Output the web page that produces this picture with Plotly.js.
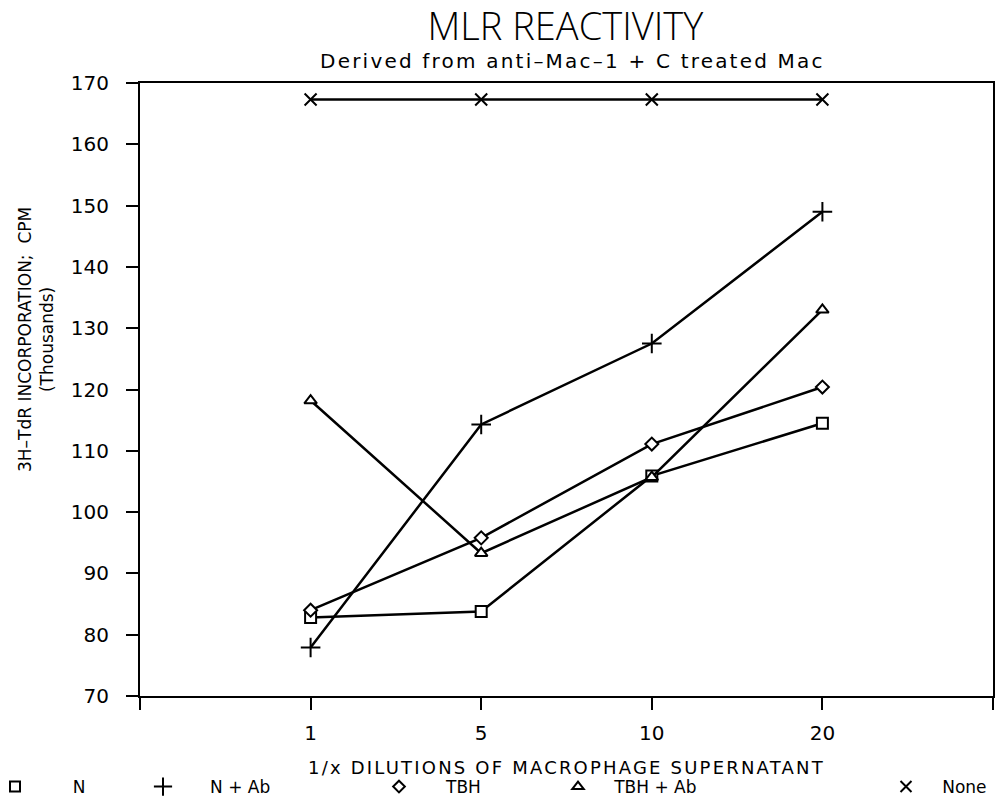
<!DOCTYPE html>
<html>
<head>
<meta charset="utf-8">
<script src="https://cdn.plot.ly/plotly-3.0.1.min.js"></script>
<style>
html,body{margin:0;padding:0;background:#fff;}
#chart{width:1001px;height:801px;}
.wide text{letter-spacing:2.2px;}
</style>
</head>
<body>
<div id="chart"></div>
<script>
const categories = ['1', '5', '10', '20'];
const seriesNames = ['N', 'N + Ab', 'TBH', 'TBH + Ab', 'None'];
const valuesN = [82.8, 83.8, 105.9, 114.5];
const valuesNAb = [77.9, 114.3, 127.5, 149.0];
const valuesTBH = [84.0, 95.8, 111.1, 120.4];
const valuesTBHAb = [118.2, 93.3, 105.7, 133.0];
const valuesNone = [167.3, 167.3, 167.3, 167.3];
const yTicks = [70, 80, 90, 100, 110, 120, 130, 140, 150, 160, 170];

const xIdx = categories.map((c, i) => i);
const FONT = 'DejaVu Sans, Arial, sans-serif';

const styles = [
  {symbol: 'square', size: 11},
  {symbol: 'cross-thin', size: 14},
  {symbol: 'diamond', size: 10},
  {symbol: 'triangle-up', size: 11},
  {symbol: 'x-thin', size: 12}
];
const allValues = [valuesN, valuesNAb, valuesTBH, valuesTBHAb, valuesNone];

const traces = [];
allValues.forEach((vals, k) => {
  traces.push({
    x: xIdx, y: vals, type: 'scatter', mode: 'lines+markers',
    line: {color: 'black', width: 2.5},
    marker: {symbol: styles[k].symbol, size: styles[k].size, color: 'white',
             line: {color: 'black', width: 2}},
    showlegend: false, hoverinfo: 'skip'
  });
});

// legend-only entries (markers only, as in the reference)
const legendPx = [15, 163, 399, 578, 906];
const legendPad = [7, 5, 5, 3, 3];
const plotL = 140, plotW = 853, plotT = 83, plotH = 613;
const layoutLegends = {};
seriesNames.forEach((name, k) => {
  const key = k === 0 ? 'legend' : 'legend' + (k + 1);
  traces.push({
    x: [null], y: [null], type: 'scatter', mode: 'markers',
    name: '\u00a0'.repeat(legendPad[k]) + name,
    legend: key,
    marker: {symbol: styles[k].symbol, size: styles[k].size - 1, color: 'white',
             line: {color: 'black', width: 2}},
    showlegend: true
  });
  layoutLegends[key] = {
    x: (legendPx[k] - 20 - plotL) / plotW, xanchor: 'left',
    y: (plotT + plotH - 787) / plotH, yanchor: 'middle',
    orientation: 'h', bgcolor: 'rgba(0,0,0,0)', borderwidth: 0,
    font: {family: FONT, size: 17, color: 'black'}
  };
});

const layout = Object.assign({
  width: 1001, height: 801,
  margin: {l: 140, r: 8, t: 83, b: 105, autoexpand: false},
  paper_bgcolor: 'white', plot_bgcolor: 'white',
  title: {text: 'MLR REACTIVITY', x: 0.5648, xanchor: 'center', y: 1 - 27 / 801, yanchor: 'middle',
          font: {family: 'Open Sans, DejaVu Sans, sans-serif', size: 38, weight: 300, color: 'black'}},
  xaxis: {
    range: [-1, 4], tickmode: 'array',
    tickvals: [-1].concat(xIdx, [categories.length]),
    ticktext: [''].concat(categories, ['']),
    showgrid: false, zeroline: false, automargin: false,
    showline: true, linecolor: 'black', linewidth: 2, mirror: true,
    ticks: 'outside', ticklen: 12, tickwidth: 2, tickcolor: 'black',
    ticklabelstandoff: 6,
    tickfont: {family: FONT, size: 20, color: 'black'},
    title: {text: '1/x DILUTIONS OF MACROPHAGE SUPERNATANT', standoff: 17,
            font: {family: FONT, size: 18, color: 'black'}}
  },
  yaxis: {
    range: [70, 170], tickmode: 'array', tickvals: yTicks,
    showgrid: false, zeroline: false, automargin: false,
    showline: true, linecolor: 'black', linewidth: 2, mirror: true,
    ticks: 'outside', ticklen: 12, tickwidth: 2, tickcolor: 'black',
    ticklabelstandoff: 13,
    tickfont: {family: FONT, size: 20, color: 'black'}
  },
  annotations: [
    {text: 'Derived from anti\u2013Mac\u20131 + C treated Mac', xref: 'paper', yref: 'paper',
     x: 0.5075, y: (plotT + plotH - 61) / plotH, xanchor: 'center', yanchor: 'middle', showarrow: false,
     font: {family: FONT, size: 20, color: 'black'}},
    {text: '3H\u2013TdR INCORPORATION;  CPM<br>(Thousands)', xref: 'paper', yref: 'paper',
     x: (36 - plotL) / plotW, y: (plotT + plotH - 340) / plotH, xanchor: 'center', yanchor: 'middle',
     textangle: -90, showarrow: false,
     font: {family: FONT, size: 17, color: 'black'}}
  ]
}, layoutLegends);

Plotly.newPlot('chart', traces, layout, {staticPlot: true, displayModeBar: false}).then(gd => {
  const ann = gd.querySelectorAll('.annotation');
  if (ann[0]) ann[0].classList.add('wide');
  const xt = gd.querySelector('.xtitle');
  if (xt) xt.style.letterSpacing = '2.2px';
});
</script>
</body>
</html>
